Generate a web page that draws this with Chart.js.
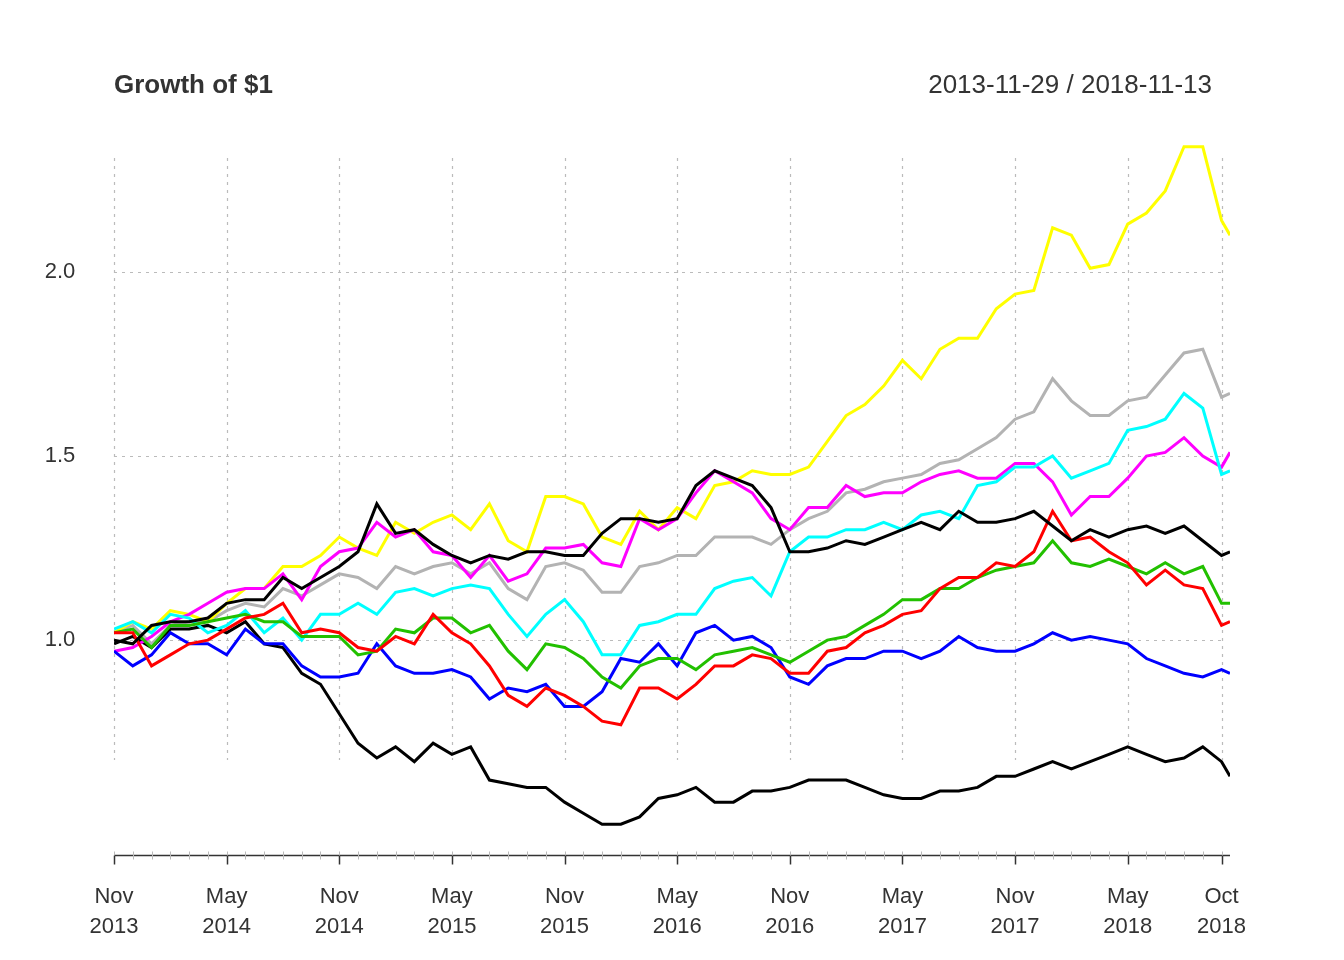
<!DOCTYPE html>
<html>
<head>
<meta charset="utf-8">
<script src="https://cdn.jsdelivr.net/npm/chart.js@4"></script>
<style>
  html, body { margin: 0; padding: 0; background: #fff; }
  #wrap { width: 1344px; height: 960px; }
</style>
</head>
<body>
<div id="wrap"><canvas id="growthChart" width="1344" height="960"></canvas></div>
<script>
// Month index 0 = 2013-11-29, last point = 2018-11-13
const monthIndex = [];
for (let i = 0; i < 60; i++) monthIndex.push(i);
monthIndex.push(59.45);

const xTickPos = [0, 6, 12, 18, 24, 30, 36, 42, 48, 54, 59];
const xTickMonth = ['Nov', 'May', 'Nov', 'May', 'Nov', 'May', 'Nov', 'May', 'Nov', 'May', 'Oct'];
const xTickYear = ['2013', '2014', '2014', '2015', '2015', '2016', '2016', '2017', '2017', '2018', '2018'];
const yTicks = [1.0, 1.5, 2.0];

// Series values (growth of $1)
const blackA = [1.00,0.99,1.04,1.05,1.05,1.06,1.10,1.11,1.11,1.17,1.14,1.17,1.20,1.24,1.37,1.29,1.30,1.26,
  1.23,1.21,1.23,1.22,1.24,1.24,1.23,1.23,1.29,1.33,1.33,1.32,1.33,1.42,1.46,1.44,1.42,1.36,
  1.24,1.24,1.25,1.27,1.26,1.28,1.30,1.32,1.30,1.35,1.32,1.32,
  1.33,1.35,1.31,1.27,1.30,1.28,1.30,1.31,1.29,1.31,1.27,1.23,1.24];
const red = [1.02,1.02,0.93,0.96,0.99,1.00,1.03,1.06,1.07,1.10,1.02,1.03,1.02,0.98,0.97,1.01,0.99,1.07,
  1.02,0.99,0.93,0.85,0.82,0.87,0.85,0.82,0.78,0.77,0.87,0.87,0.84,0.88,0.93,0.93,0.96,0.95,
  0.91,0.91,0.97,0.98,1.02,1.04,1.07,1.08,1.14,1.17,1.17,1.21,
  1.20,1.24,1.35,1.27,1.28,1.24,1.21,1.15,1.19,1.15,1.14,1.04,1.05];
const green = [1.02,1.03,0.98,1.04,1.04,1.05,1.06,1.07,1.05,1.05,1.01,1.01,1.01,0.96,0.97,1.03,1.02,1.06,
  1.06,1.02,1.04,0.97,0.92,0.99,0.98,0.95,0.90,0.87,0.93,0.95,0.95,0.92,0.96,0.97,0.98,0.96,
  0.94,0.97,1.00,1.01,1.04,1.07,1.11,1.11,1.14,1.14,1.17,1.19,
  1.20,1.21,1.27,1.21,1.20,1.22,1.20,1.18,1.21,1.18,1.20,1.10,1.10];
const blue = [0.97,0.93,0.96,1.02,0.99,0.99,0.96,1.03,0.99,0.99,0.93,0.90,0.90,0.91,0.99,0.93,0.91,0.91,
  0.92,0.90,0.84,0.87,0.86,0.88,0.82,0.82,0.86,0.95,0.94,0.99,0.93,1.02,1.04,1.00,1.01,0.98,
  0.90,0.88,0.93,0.95,0.95,0.97,0.97,0.95,0.97,1.01,0.98,0.97,
  0.97,0.99,1.02,1.00,1.01,1.00,0.99,0.95,0.93,0.91,0.90,0.92,0.91];
const cyan = [1.03,1.05,1.02,1.07,1.06,1.02,1.04,1.08,1.02,1.06,1.00,1.07,1.07,1.10,1.07,1.13,1.14,1.12,
  1.14,1.15,1.14,1.07,1.01,1.07,1.11,1.05,0.96,0.96,1.04,1.05,1.07,1.07,1.14,1.16,1.17,1.12,
  1.24,1.28,1.28,1.30,1.30,1.32,1.30,1.34,1.35,1.33,1.42,1.43,
  1.47,1.47,1.50,1.44,1.46,1.48,1.57,1.58,1.60,1.67,1.63,1.45,1.46];
const magenta = [0.97,0.98,1.01,1.05,1.07,1.10,1.13,1.14,1.14,1.18,1.11,1.20,1.24,1.25,1.32,1.28,1.30,1.24,
  1.23,1.17,1.23,1.16,1.18,1.25,1.25,1.26,1.21,1.20,1.33,1.30,1.33,1.40,1.46,1.43,1.40,1.33,
  1.30,1.36,1.36,1.42,1.39,1.40,1.40,1.43,1.45,1.46,1.44,1.44,
  1.48,1.48,1.43,1.34,1.39,1.39,1.44,1.50,1.51,1.55,1.50,1.47,1.51];
const yellow = [1.02,1.05,1.03,1.08,1.07,1.05,1.10,1.14,1.14,1.20,1.20,1.23,1.28,1.25,1.23,1.32,1.29,1.32,
  1.34,1.30,1.37,1.27,1.24,1.39,1.39,1.37,1.28,1.26,1.35,1.30,1.36,1.33,1.42,1.43,1.46,1.45,
  1.45,1.47,1.54,1.61,1.64,1.69,1.76,1.71,1.79,1.82,1.82,1.90,
  1.94,1.95,2.12,2.10,2.01,2.02,2.13,2.16,2.22,2.34,2.34,2.14,2.10];
const gray = [1.02,1.04,0.99,1.04,1.05,1.05,1.08,1.10,1.09,1.14,1.12,1.15,1.18,1.17,1.14,1.20,1.18,1.20,
  1.21,1.18,1.21,1.14,1.11,1.20,1.21,1.19,1.13,1.13,1.20,1.21,1.23,1.23,1.28,1.28,1.28,1.26,
  1.30,1.33,1.35,1.40,1.41,1.43,1.44,1.45,1.48,1.49,1.52,1.55,
  1.60,1.62,1.71,1.65,1.61,1.61,1.65,1.66,1.72,1.78,1.79,1.66,1.67];
const blackB = [0.99,1.01,0.98,1.03,1.03,1.04,1.02,1.05,0.99,0.98,0.91,0.88,0.80,0.72,0.68,0.71,0.67,0.72,
  0.69,0.71,0.62,0.61,0.60,0.60,0.56,0.53,0.50,0.50,0.52,0.57,0.58,0.60,0.56,0.56,0.59,0.59,
  0.60,0.62,0.62,0.62,0.60,0.58,0.57,0.57,0.59,0.59,0.60,0.63,
  0.63,0.65,0.67,0.65,0.67,0.69,0.71,0.69,0.67,0.68,0.71,0.67,0.63];

const seriesList = [
  { data: blackA, color: '#000000' },
  { data: red, color: '#FF0000' },
  { data: green, color: '#22C000' },
  { data: blue, color: '#0000FF' },
  { data: cyan, color: '#00FFFF' },
  { data: magenta, color: '#FF00FF' },
  { data: yellow, color: '#FFFF00' },
  { data: gray, color: '#B3B3B3' },
  { data: blackB, color: '#000000' }
];

const textColor = '#333333';
const fontFamily = '"Liberation Sans", Arial, Helvetica, sans-serif';

// Grid, axis, labels and titles drawn R-style
const decorPlugin = {
  id: 'decor',
  beforeDatasetsDraw(chart) {
    const ctx = chart.ctx;
    const xs = chart.scales.x, ys = chart.scales.y;
    ctx.save();
    ctx.strokeStyle = '#BBBBBB';
    ctx.lineWidth = 1.2;
    ctx.setLineDash([3, 5]);
    xTickPos.forEach(v => {
      const px = Math.round(xs.getPixelForValue(v)) + 0.5;
      ctx.beginPath(); ctx.moveTo(px, 158); ctx.lineTo(px, 760); ctx.stroke();
    });
    yTicks.forEach(v => {
      const py = Math.round(ys.getPixelForValue(v)) + 0.5;
      ctx.beginPath(); ctx.moveTo(114, py); ctx.lineTo(1225, py); ctx.stroke();
    });
    ctx.restore();
  },
  afterDraw(chart) {
    const ctx = chart.ctx;
    const xs = chart.scales.x, ys = chart.scales.y;
    ctx.save();
    // x axis
    const axisY = 855.5;
    ctx.strokeStyle = '#333333';
    ctx.lineWidth = 1.5;
    ctx.beginPath(); ctx.moveTo(xs.getPixelForValue(0), axisY); ctx.lineTo(xs.getPixelForValue(59.45), axisY); ctx.stroke();
    ctx.strokeStyle = '#BBBBBB';
    ctx.lineWidth = 1;
    for (let i = 0; i < 60; i++) {
      const px = Math.round(xs.getPixelForValue(i)) + 0.5;
      ctx.beginPath(); ctx.moveTo(px, axisY - 4); ctx.lineTo(px, axisY + 4); ctx.stroke();
    }
    ctx.strokeStyle = '#333333';
    ctx.lineWidth = 1.5;
    xTickPos.forEach(v => {
      const px = Math.round(xs.getPixelForValue(v)) + 0.5;
      ctx.beginPath(); ctx.moveTo(px, axisY); ctx.lineTo(px, axisY + 9); ctx.stroke();
    });
    ctx.fillStyle = textColor;
    ctx.font = '22px ' + fontFamily;
    ctx.textAlign = 'center';
    ctx.textBaseline = 'middle';
    xTickPos.forEach((v, k) => {
      const px = xs.getPixelForValue(v);
      ctx.fillText(xTickMonth[k], px, 897);
      ctx.fillText(xTickYear[k], px, 927);
    });
    yTicks.forEach(v => {
      ctx.fillText(v.toFixed(1), 60, ys.getPixelForValue(v));
    });
    // titles
    ctx.font = 'bold 26px ' + fontFamily;
    ctx.textAlign = 'left';
    ctx.fillText('Growth of $1', 114, 86);
    ctx.font = '26px ' + fontFamily;
    ctx.textAlign = 'right';
    ctx.fillText('2013-11-29 / 2018-11-13', 1212, 86);
    ctx.restore();
  }
};

new Chart(document.getElementById('growthChart'), {
  type: 'line',
  data: {
    datasets: seriesList.map(s => ({
      data: s.data.map((v, i) => ({ x: monthIndex[i], y: v })),
      borderColor: s.color,
      borderWidth: 3,
      pointRadius: 0,
      tension: 0,
      fill: false
    }))
  },
  options: {
    responsive: false,
    animation: false,
    devicePixelRatio: 1,
    layout: { padding: { left: 114, right: 114, top: 121, bottom: 110 } },
    plugins: { legend: { display: false }, tooltip: { enabled: false }, title: { display: false } },
    scales: {
      x: { type: 'linear', min: 0, max: 59.45, display: false },
      y: { type: 'linear', min: 0.43, max: 2.41, display: false }
    }
  },
  plugins: [decorPlugin]
});
</script>
</body>
</html>
